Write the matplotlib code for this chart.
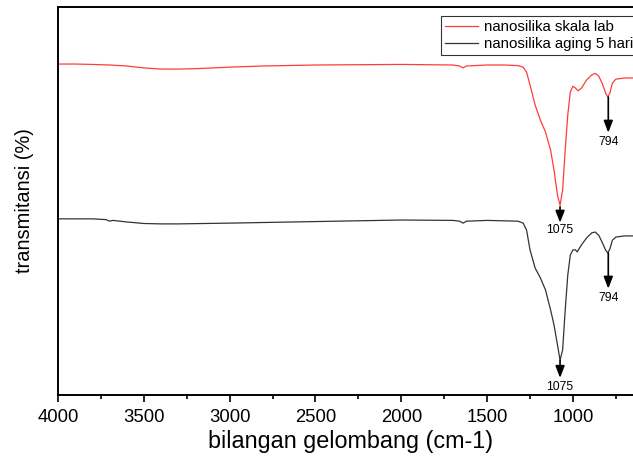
import matplotlib
matplotlib.use("Agg")
import matplotlib.pyplot as plt

plt.rcParams['font.family'] = ['Liberation Sans', 'DejaVu Sans']

# wavenumber (cm-1) and transmittance
wn_lab = [4000, 3900, 3800, 3700, 3600, 3500, 3400, 3300, 3200, 3000, 2800, 2500,
          2000, 1700, 1660, 1640, 1620, 1500, 1400, 1320, 1290, 1270, 1250, 1220,
          1190, 1160, 1130, 1110, 1090, 1075, 1060, 1045, 1030, 1015, 1000, 985,
          970, 950, 920, 890, 870, 850, 830, 810, 797, 785, 770, 750, 700, 650]
t_lab = [85.3, 85.3, 85.2, 85.05, 84.8, 84.3, 84.0, 84.0, 84.1, 84.5, 84.8, 85.05,
         85.2, 85.05, 84.8, 84.3, 84.8, 85.05, 85.05, 84.9, 84.5, 83.2, 79.9, 74.7,
         70.9, 67.8, 63.1, 57.9, 51.5, 48.9, 52.8, 63.1, 72.2, 78.1, 79.6, 79.1,
         78.4, 79.1, 81.2, 82.5, 82.9, 82.2, 80.4, 77.8, 76.8, 77.8, 80.4, 81.4, 81.7, 81.7]

wn_aging = [4000, 3800, 3720, 3700, 3680, 3600, 3500, 3400, 3300, 3000, 2500, 2000,
            1700, 1660, 1640, 1620, 1500, 1320, 1290, 1270, 1250, 1220, 1190, 1160,
            1130, 1110, 1090, 1075, 1060, 1045, 1030, 1015, 1000, 985, 975, 950,
            920, 890, 870, 850, 830, 810, 797, 785, 770, 750, 700, 650]
t_aging = [45.4, 45.4, 45.2, 44.8, 45.0, 44.6, 44.2, 44.1, 44.1, 44.3, 44.7, 45.1,
           45.0, 44.8, 44.3, 44.8, 45.0, 44.8, 44.3, 42.5, 37.4, 32.7, 30.2, 27.1,
           21.9, 18.0, 12.9, 9.0, 11.6, 21.9, 30.9, 36.1, 37.4, 37.4, 36.9, 38.7,
           40.5, 41.8, 42.0, 41.2, 39.4, 37.4, 36.6, 37.6, 39.9, 40.7, 41.0, 41.0]

# peak markers: (wavenumber, arrow start, arrow tip, label y)
peaks_lab = [(1075, 48.5, 44.4, 42.6), (794, 76.8, 67.6, 65.2)]
peaks_aging = [(1075, 9.0, 4.4, 2.0), (794, 36.6, 27.4, 25.0)]

fig = plt.figure(figsize=(6.33, 4.59), dpi=100)
ax = fig.add_axes([58 / 633, 1 - 395 / 459, 1 - 58 / 633, 388 / 459])

ax.plot(wn_lab, t_lab, color='#ff3b3b', lw=0.9, label='nanosilika skala lab')
ax.plot(wn_aging, t_aging, color='#333333', lw=0.9, label='nanosilika aging 5 hari')

for peaks in (peaks_lab, peaks_aging):
    for w, y0, y1, yt in peaks:
        ax.annotate('', xy=(w, y1), xytext=(w, y0),
                    arrowprops=dict(arrowstyle='-|>,head_length=0.65,head_width=0.25',
                                    color='black', lw=1.2, mutation_scale=11,
                                    shrinkA=0, shrinkB=0))
        ax.text(w, yt, str(w), ha='center', va='center', fontsize=8.8)

ax.set_xlim(4000, 650)
ax.set_ylim(0, 100)
ax.set_xticks([4000, 3500, 3000, 2500, 2000, 1500, 1000])
ax.set_xticks(range(3750, 650, -500), minor=True)
ax.set_yticks([])
ax.tick_params(axis='x', which='major', length=5, width=1.2, labelsize=13.3, pad=5)
ax.tick_params(axis='x', which='minor', length=3, width=1.2)
ax.spines['right'].set_visible(False)
for s in ('left', 'top', 'bottom'):
    ax.spines[s].set_linewidth(1.4)

ax.set_xlabel('bilangan gelombang (cm-1)', fontsize=16.8)
ax.xaxis.set_label_coords((350.5 - 58) / 575, (395 - 430) / 388)
ax.set_ylabel('transmitansi (%)', fontsize=14.4, va='center')
ax.yaxis.set_label_coords((24 - 58) / 575, 0.5)

leg = ax.legend(loc='upper left', bbox_to_anchor=((441 - 58) / 575, (395 - 16) / 388),
                fontsize=10.8, frameon=True, fancybox=False, handlelength=2.2,
                borderpad=0.25, labelspacing=0.2, handletextpad=0.4, borderaxespad=0)
leg.get_frame().set_edgecolor('black')
leg.get_frame().set_linewidth(0.8)

fig.savefig('out.png', dpi=100)
